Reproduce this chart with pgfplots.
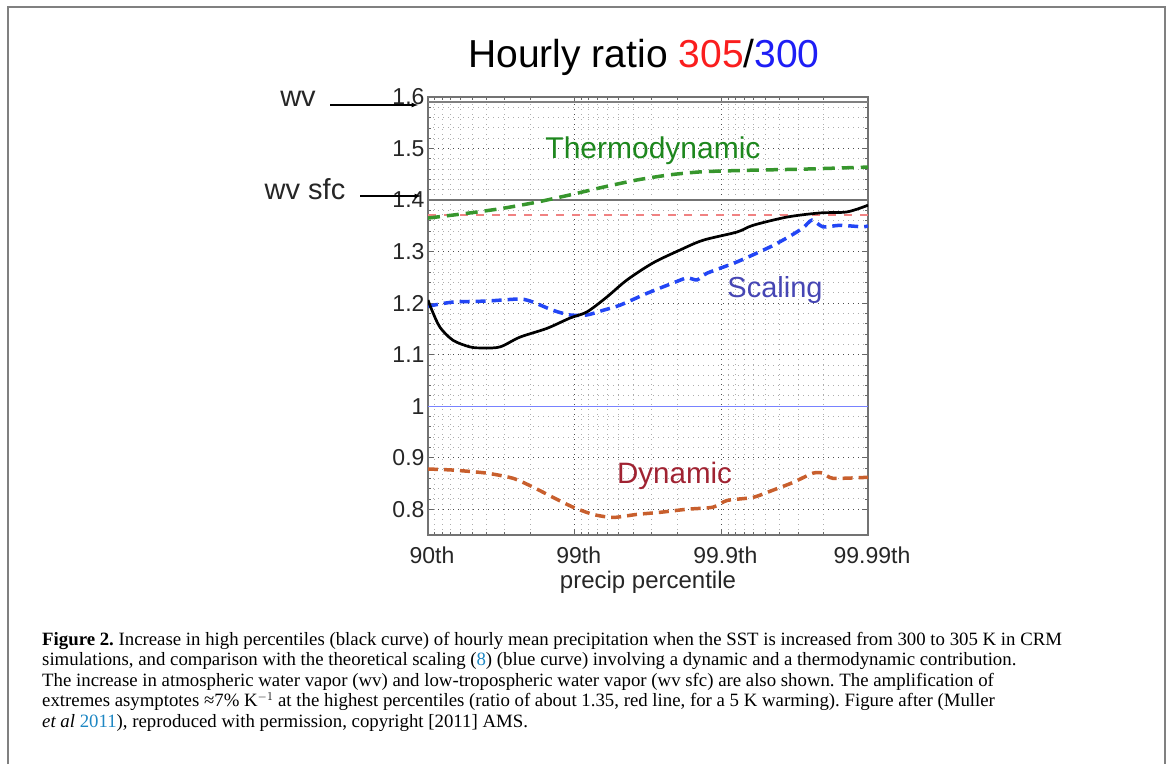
\documentclass[border=0pt]{standalone}
\usepackage{pgfplots}
\pgfplotsset{compat=1.18}
\usepackage{fontspec}
\setmainfont{Liberation Serif}
\newfontfamily\arial{Liberation Sans}
\definecolor{thermo}{RGB}{55,150,45}
\definecolor{thermotxt}{RGB}{30,135,30}
\definecolor{scal}{RGB}{35,70,245}
\definecolor{scaltxt}{RGB}{70,70,180}
\definecolor{dyn}{RGB}{200,95,45}
\definecolor{dyntxt}{RGB}{160,35,50}
\definecolor{redline}{RGB}{240,130,130}
\definecolor{oneline}{RGB}{120,130,255}
\definecolor{title305}{RGB}{250,30,30}
\definecolor{title300}{RGB}{30,30,245}
\definecolor{refblue}{RGB}{30,135,195}
\frenchspacing

\begin{document}
\begin{tikzpicture}[x=1pt,y=1pt]
\path[use as bounding box] (0,0) rectangle (1171,764);
\draw[black!50, line width=2pt] (8,0) -- (8,757) -- (1165,757) -- (1165,0);

\node[anchor=base] at (644,696) {\arial\fontsize{39}{39}\selectfont Hourly ratio \textcolor{title305}{305}/\textcolor{title300}{300}};

\begin{axis}[
    at={(428pt,229pt)}, anchor=south west,
    width=440pt, height=438pt, scale only axis,
    xmin=1, xmax=4, ymin=0.75, ymax=1.6,
    xtick={1,2,3,4},
    xticklabels={90th,99th,99.9th,99.99th},
    minor xtick={1.046,1.097,1.155,1.222,1.301,1.398,1.523,1.699,
                 2.046,2.097,2.155,2.222,2.301,2.398,2.523,2.699,
                 3.046,3.097,3.155,3.222,3.301,3.398,3.523,3.699},
    ytick={0.8,0.9,1,1.1,1.2,1.3,1.4,1.5,1.6},
    yticklabels={0.8,0.9,1,1.1,1.2,1.3,1.4,1.5,1.6},
    minor y tick num=4,
    xmajorgrids, ymajorgrids, xminorgrids, yminorgrids,
    major grid style={black!70, line width=0.9pt, dash pattern=on 1pt off 4pt},
    minor grid style={black!32, line width=0.9pt, dash pattern=on 1pt off 4pt},
    tick align=inside,
    major tick length=6pt, minor tick length=3pt,
    tick style={black!60, line width=0.8pt},
    axis line style={black!55, line width=1.3pt},
    tick label style={font=\arial\fontsize{23}{23}\selectfont, text=black!85},
    xticklabel style={yshift=-8pt, xshift=4pt},
    xlabel={precip percentile},
    xlabel style={font=\arial\fontsize{24}{24}\selectfont, text=black!85, yshift=-1pt},
  ]

  % reference lines
  \addplot[black!50, line width=1.5pt] coordinates {(1,1.59)(4,1.59)};
  \addplot[black!55, line width=1.5pt] coordinates {(1,1.40)(4,1.40)};
  \addplot[redline, line width=1.3pt, dash pattern=on 8pt off 8pt] coordinates {(1,1.371)(4,1.371)};
  \addplot[oneline, line width=1.3pt] coordinates {(1,1.0)(4,1.0)};

  % thermodynamic
  \addplot[thermo, line width=3.5pt, dash pattern=on 12pt off 7pt, smooth, tension=0.4] coordinates {
    (1.000,1.365)(1.286,1.375)(1.511,1.384)(1.743,1.396)(1.968,1.410)
    (2.193,1.425)(2.425,1.439)(2.650,1.449)(2.875,1.455)(3.216,1.458)
    (3.557,1.460)(4.000,1.464)
  };

  % dynamic
  \addplot[dyn, line width=3.5pt, dash pattern=on 10pt off 6pt, smooth, tension=0.4] coordinates {
    (1.000,0.878)(1.170,0.876)(1.402,0.870)(1.580,0.860)(1.716,0.843)
    (1.852,0.823)(1.989,0.804)(2.125,0.790)(2.261,0.784)(2.425,0.790)
    (2.582,0.794)(2.766,0.800)(2.943,0.804)(3.039,0.817)(3.216,0.823)
    (3.352,0.837)(3.489,0.852)(3.625,0.870)(3.693,0.870)(3.761,0.860)
    (4.000,0.862)
  };

  % scaling
  \addplot[scal, line width=3.5pt, dash pattern=on 10pt off 6pt, smooth, tension=0.4] coordinates {
    (1.000,1.194)(1.170,1.202)(1.402,1.204)(1.627,1.208)(1.716,1.202)
    (1.852,1.186)(1.968,1.177)(2.084,1.177)(2.193,1.186)(2.309,1.196)
    (2.493,1.219)(2.670,1.239)(2.766,1.249)(2.834,1.245)(2.902,1.258)
    (3.107,1.280)(3.332,1.309)(3.468,1.330)(3.557,1.346)(3.618,1.361)
    (3.693,1.348)(3.809,1.351)(3.966,1.348)(4.000,1.350)
  };

  % hourly ratio
  \addplot[black, line width=2.7pt, smooth, tension=0.5] coordinates {
    (1.000,1.206)(1.027,1.186)(1.082,1.153)(1.170,1.128)(1.286,1.115)
    (1.375,1.113)(1.491,1.115)(1.627,1.134)(1.811,1.151)(1.968,1.171)
    (2.084,1.183)(2.220,1.212)(2.357,1.245)(2.534,1.278)(2.718,1.303)
    (2.875,1.322)(3.107,1.338)(3.216,1.351)(3.448,1.367)(3.673,1.375)
    (3.857,1.377)(4.000,1.390)
  };

  \node[anchor=base, text=thermotxt, font=\arial\fontsize{30}{30}\selectfont] at (axis cs:2.534,1.4816) {Thermodynamic};
  \node[anchor=base, text=scaltxt, font=\arial\fontsize{29}{29}\selectfont] at (axis cs:3.366,1.210) {Scaling};
  \node[anchor=base, text=dyntxt, font=\arial\fontsize{29.5}{29.5}\selectfont] at (axis cs:2.681,0.8505) {Dynamic};
\end{axis}

\node[anchor=base, font=\arial\fontsize{29}{29}\selectfont, text=black!85] at (298,657) {wv};
\draw[-latex, line width=1.2pt] (330,659) -- (418,659);
\node[anchor=base, font=\arial\fontsize{29}{29}\selectfont, text=black!85] at (305,564) {wv sfc};
\draw[-latex, line width=1.2pt] (360,568) -- (421,568);

\begin{scope}[every node/.style={anchor=base west, inner sep=0pt, font=\fontsize{18.8}{18.8}\selectfont}]
\node at (42,119) {\textbf{Figure 2.} Increase in high percentiles (black curve) of hourly mean precipitation when the SST is increased from 300 to 305 K in CRM};
\node at (42,98.5) {simulations, and comparison with the theoretical scaling (\textcolor{refblue}{8}) (blue curve) involving a dynamic and a thermodynamic contribution.};
\node at (42,78) {The increase in atmospheric water vapor (wv) and low-tropospheric water vapor (wv sfc) are also shown. The amplification of};
\node at (42,57.5) {extremes asymptotes ≈7\% K$^{-1}$ at the highest percentiles (ratio of about 1.35, red line, for a 5 K warming). Figure after (Muller};
\node at (42,37) {\textit{et al} \textcolor{refblue}{2011}), reproduced with permission, copyright [2011] AMS.};
\end{scope}
\end{tikzpicture}
\end{document}
